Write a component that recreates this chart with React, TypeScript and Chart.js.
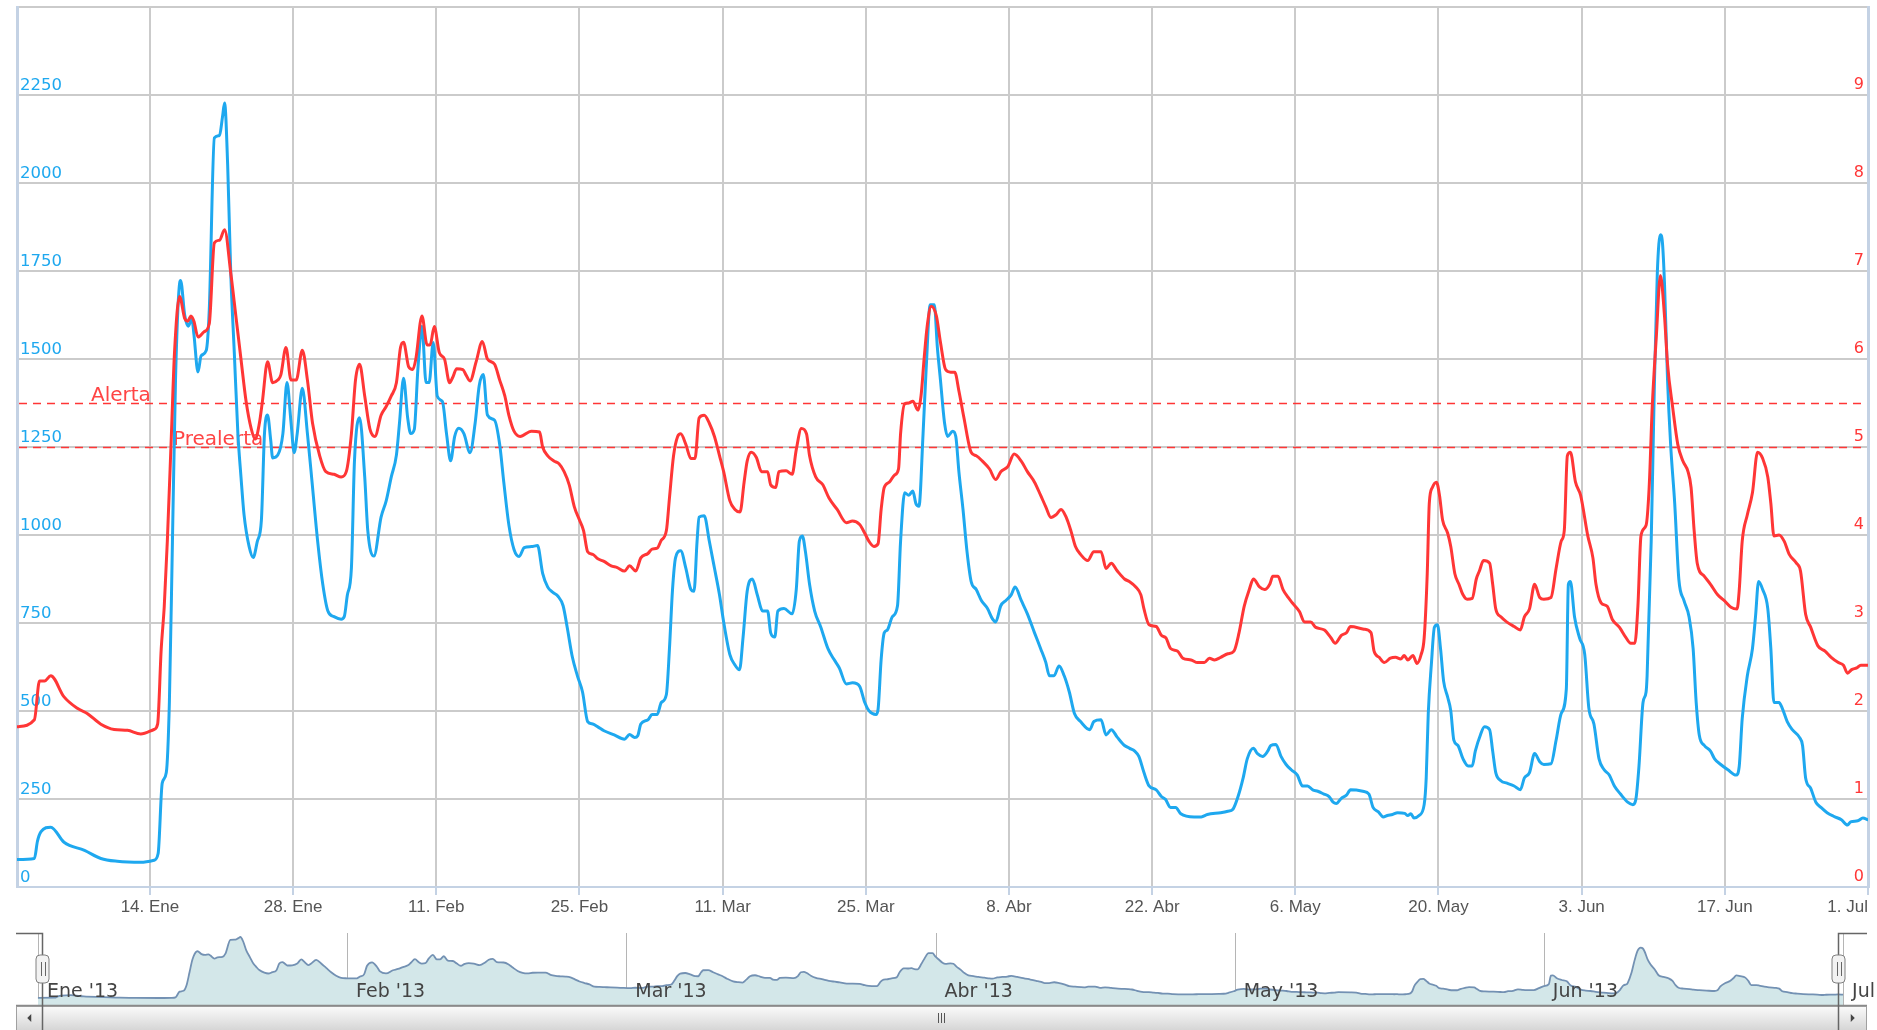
import React, { useEffect, useRef } from "react";
import { Chart, registerables } from "chart.js";
Chart.register(...registerables);

// ---- data (x = days since 1 Jan 2013) ----
const caudalDias = [0,1.7,2.0,2.35,3.3,4.6,6.6,8.2,9.8,12.1,13.4,13.8,14.2,14.6,14.9,15.2,15.5,15.9,16.0,16.4,16.75,17.1,17.3,17.7,18.0,18.5,18.8,19.3,19.8,20.1,20.3,20.6,20.9,21.25,21.6,21.9,22.2,22.7,23.1,23.5,23.9,24.2,24.5,24.8,25.0,25.5,26.0,26.4,26.8,27.1,27.4,27.9,28.4,28.9,29.4,29.9,30.4,31.0,31.7,32.0,32.3,32.7,33.0,33.5,34.0,34.3,34.9,35.6,36.1,36.6,37.1,37.4,37.8,38.2,38.5,38.85,39.2,39.6,40.0,40.3,40.7,41.1,41.6,42.0,42.4,42.8,43.2,43.7,44.3,44.8,45.2,45.6,46.0,46.7,47.2,47.6,48.1,48.6,49.1,49.6,50.3,50.9,51.4,51.9,52.4,52.9,53.4,53.8,54.3,54.8,55.3,55.8,56.3,56.8,57.4,58.4,59.4,59.9,60.4,60.7,61.0,61.7,62.1,62.6,63.0,63.5,63.8,64.1,64.4,64.9,65.4,65.9,66.2,66.5,66.7,67.2,67.7,68.2,68.7,69.1,69.7,70.2,70.65,71.0,71.4,71.9,72.4,72.9,73.4,73.7,74.1,74.4,75.0,75.8,76.2,76.5,76.8,77.1,77.5,78.0,78.6,79.3,79.9,80.4,81.1,81.7,82.4,82.9,83.3,84.0,84.2,84.5,84.8,85.1,85.6,86.1,86.4,86.8,87.2,87.6,87.9,88.2,88.6,88.9,89.3,89.7,90.0,90.3,90.7,91.0,91.5,91.8,92.1,92.5,92.9,93.3,93.8,94.3,94.9,95.4,95.7,96.2,96.7,97.2,97.6,98.2,98.8,99.5,100.1,100.6,100.95,101.4,101.9,102.4,102.9,103.4,104.0,104.9,105.3,106.0,106.5,107.0,107.6,108.3,108.8,109.3,109.7,110.2,110.7,111.4,111.9,112.3,112.8,113.3,113.8,115.1,115.8,116.4,117.7,118.4,118.9,119.4,119.9,120.3,120.9,121.3,121.8,122.3,122.6,123.1,123.6,124.1,124.6,125.2,125.7,126.2,126.7,127.2,127.8,128.3,128.7,129.0,129.5,130.0,130.4,131.6,132.2,132.6,133.1,133.6,134.0,134.5,135.0,135.7,136.0,136.3,136.6,137.1,137.6,137.8,138.0,138.3,138.6,138.9,139.2,139.5,139.9,140.2,140.5,140.9,141.4,141.9,142.3,142.6,143.1,143.5,144.0,144.3,144.6,145.1,145.7,146.4,147.0,147.4,147.9,148.4,148.9,149.3,150.0,150.5,151.0,151.5,151.7,151.9,152.3,152.8,153.3,153.7,154.2,154.7,155.2,155.7,156.2,156.8,157.5,158.0,158.3,158.6,159.0,159.3,159.4,159.8,160.1,160.4,160.7,160.9,161.1,161.4,161.7,162.1,162.5,163.0,163.5,163.9,164.2,164.5,165.0,165.6,166.0,166.6,167.3,168.1,168.4,168.7,169.2,169.7,170.0,170.3,170.7,171.2,171.5,171.8,172.3,172.6,173.1,173.6,174.3,174.6,174.9,175.4,175.9,176.4,177.0,177.7,178.4,179.0,179.3,180.0,180.5,181.0];
const caudalValores = [78,81,130,157,170,127,104,81,73,70,76,95,295,325,524,982,1440,1715,1723,1624,1593,1615,1570,1463,1509,1524,1639,2128,2135,2189,2227,2051,1746,1517,1288,1166,1058,967,936,982,1043,1288,1341,1272,1219,1227,1288,1433,1318,1234,1288,1417,1288,1135,982,860,784,768,761,768,829,906,1211,1333,1166,1013,940,1051,1097,1165,1227,1318,1445,1333,1288,1300,1471,1593,1433,1433,1547,1394,1379,1288,1211,1280,1303,1288,1234,1318,1425,1456,1341,1326,1257,1150,1028,959,939,964,967,970,891,852,837,826,799,738,654,600,554,470,463,455,444,432,420,433,425,430,463,475,490,490,524,547,677,845,936,955,906,845,840,982,1051,1055,982,906,829,753,661,631,617,710,840,875,829,784,784,722,710,784,791,776,845,982,997,952,860,784,738,677,646,623,577,580,570,524,501,490,505,646,722,730,768,799,982,1120,1113,1125,1089,1082,1288,1471,1654,1654,1532,1440,1318,1280,1295,1280,1181,1074,952,868,845,814,791,761,753,799,814,829,852,814,776,722,677,638,600,600,628,600,554,493,470,447,470,475,432,447,425,402,394,386,371,325,287,276,257,249,226,226,208,199,199,206,211,215,221,257,310,364,394,379,371,386,402,405,371,348,333,318,287,287,276,272,264,257,241,237,252,261,276,272,264,226,214,199,203,206,211,209,203,208,196,203,234,310,493,631,738,745,677,585,539,501,417,402,364,344,344,386,432,455,447,386,325,302,295,287,276,310,325,379,356,348,350,417,493,562,860,868,768,707,661,509,463,364,333,318,287,264,241,234,249,341,524,554,600,982,1410,1746,1853,1830,1715,1440,1257,1089,875,814,768,677,524,432,402,386,364,348,333,318,341,478,600,677,768,868,845,791,677,524,524,509,470,447,425,402,310,280,241,226,211,200,191,176,185,188,196,191];

const nivelDias = [0,1.7,2.2,2.7,3.3,4.6,5.9,6.9,8.2,9.5,10.8,12.1,13.4,13.75,14.1,14.4,14.7,15.1,15.4,15.9,16.4,16.7,17.0,17.3,17.7,18.3,18.8,19.3,19.8,20.3,20.9,21.4,21.9,22.4,22.9,23.3,23.7,24.0,24.5,25.0,25.5,25.8,26.3,26.8,27.3,27.9,28.4,28.9,29.6,30.2,31.0,31.7,32.2,32.7,33.1,33.5,34.0,34.5,35.0,35.6,36.1,36.6,37.1,37.5,37.8,38.3,38.7,39.0,39.6,40.1,40.4,40.8,41.3,41.8,42.3,42.6,43.0,43.6,43.9,44.3,44.9,45.5,46.0,46.7,47.2,47.7,48.1,48.6,49.2,50.3,51.1,51.4,51.9,52.5,53.0,53.5,54.0,54.5,55.0,55.4,55.8,56.3,56.8,57.4,58.1,58.7,59.4,59.9,60.5,61.0,61.7,62.1,62.6,63.0,63.5,63.8,64.2,64.6,64.9,65.4,65.9,66.3,66.7,67.2,67.7,68.2,68.7,69.1,69.7,70.2,70.7,71.1,71.4,71.8,72.3,72.8,73.4,73.7,74.2,74.5,75.2,75.8,76.2,76.7,77.2,77.5,78.1,78.8,79.4,80.2,81.1,81.7,82.4,82.9,83.3,83.8,84.2,84.5,84.8,85.3,85.8,86.2,86.4,86.8,87.2,87.6,88.1,88.4,88.7,89.0,89.4,89.9,90.3,90.8,91.3,91.7,92.1,92.6,93.3,93.8,94.4,95.1,95.7,96.2,96.9,97.5,98.2,98.8,99.5,100.1,100.6,101.1,101.6,102.1,102.6,103.05,103.5,104.0,104.7,105.3,106.0,106.5,107.0,107.6,108.3,108.8,109.4,109.9,110.2,110.7,111.4,111.9,112.35,112.8,113.5,114.0,114.8,115.45,116.1,116.6,117.1,117.7,118.4,119.0,119.5,120.0,120.5,120.9,121.5,122.0,122.5,122.8,123.3,123.8,124.3,124.7,125.4,125.9,126.5,127.0,127.85,128.5,128.9,129.5,130.0,130.4,131.7,132.4,132.7,133.2,133.7,134.3,134.8,135.3,135.65,136.0,136.5,136.9,137.3,137.6,137.9,138.1,138.4,138.8,139.1,139.4,139.9,140.2,140.6,141.0,141.4,141.8,142.3,142.7,143.0,143.4,144.0,144.3,144.6,145.1,145.7,146.4,147.0,147.4,147.9,148.4,148.9,149.3,150.0,150.5,151.0,151.3,151.6,151.9,152.4,152.9,153.6,154.1,154.4,154.9,155.5,156.0,156.7,157.3,157.8,158.2,158.5,158.8,159.3,159.6,159.9,160.3,160.7,161.1,161.4,161.9,162.4,162.9,163.4,163.7,164.0,164.3,165.0,165.6,166.3,166.9,167.6,168.2,168.4,168.7,169.2,169.7,170.2,170.7,171.2,171.5,171.8,172.3,172.8,173.3,174.0,174.4,174.9,175.4,176.1,176.8,177.4,178.1,178.6,179.0,179.4,179.9,180.3,181.0];
const nivelValores = [1.82,1.9,2.34,2.34,2.4,2.16,2.03,1.97,1.85,1.79,1.78,1.74,1.79,1.85,2.7,3.19,3.93,5.15,6.07,6.71,6.46,6.43,6.49,6.43,6.25,6.31,6.4,7.32,7.35,7.47,6.98,6.49,6.0,5.52,5.21,5.09,5.27,5.52,5.97,5.73,5.76,5.82,6.13,5.76,5.76,6.1,5.76,5.27,4.9,4.72,4.69,4.66,4.72,5.15,5.76,5.94,5.58,5.21,5.12,5.36,5.46,5.58,5.73,6.13,6.19,5.91,5.88,6.0,6.49,6.16,6.16,6.37,6.07,6.0,5.73,5.79,5.89,5.88,5.82,5.75,5.97,6.2,6.0,5.94,5.76,5.58,5.36,5.18,5.12,5.18,5.17,5.0,4.9,4.84,4.81,4.72,4.57,4.32,4.17,4.05,3.81,3.78,3.73,3.7,3.65,3.63,3.59,3.65,3.59,3.74,3.79,3.84,3.85,3.94,4.05,4.42,4.9,5.12,5.15,5.03,4.87,4.87,5.33,5.36,5.27,5.12,4.9,4.72,4.39,4.29,4.26,4.6,4.84,4.94,4.88,4.72,4.72,4.57,4.54,4.72,4.73,4.69,4.97,5.21,5.15,4.9,4.66,4.57,4.42,4.29,4.14,4.16,4.12,4.02,3.93,3.87,3.9,4.29,4.54,4.6,4.68,4.75,5.15,5.49,5.5,5.52,5.42,5.58,6.0,6.37,6.6,6.49,6.19,5.88,5.85,5.85,5.64,5.33,4.94,4.9,4.84,4.75,4.63,4.72,4.78,4.92,4.84,4.72,4.6,4.45,4.32,4.2,4.23,4.29,4.2,4.05,3.87,3.78,3.71,3.81,3.81,3.62,3.68,3.59,3.5,3.47,3.41,3.32,3.16,2.98,2.96,2.86,2.83,2.71,2.68,2.6,2.58,2.55,2.55,2.6,2.58,2.61,2.65,2.68,2.89,3.19,3.38,3.5,3.41,3.38,3.44,3.53,3.53,3.38,3.29,3.23,3.13,3.01,3.01,2.95,2.92,2.83,2.77,2.86,2.89,2.96,2.93,2.89,2.68,2.61,2.55,2.6,2.61,2.59,2.63,2.58,2.63,2.54,2.64,2.83,3.56,4.36,4.54,4.6,4.45,4.17,4.02,3.87,3.56,3.44,3.32,3.27,3.28,3.5,3.59,3.71,3.68,3.44,3.16,3.07,3.01,2.96,2.92,3.07,3.16,3.44,3.29,3.27,3.29,3.62,3.93,4.05,4.9,4.94,4.6,4.45,3.99,3.74,3.44,3.23,3.19,3.04,2.95,2.84,2.77,2.77,3.19,3.99,4.11,4.54,5.45,6.25,6.95,6.49,5.94,5.45,5.03,4.84,4.72,4.54,4.05,3.68,3.53,3.44,3.32,3.26,3.18,3.16,3.36,3.93,4.23,4.48,4.94,4.87,4.66,4.36,3.99,4.0,3.93,3.78,3.68,3.59,3.1,2.95,2.74,2.68,2.61,2.55,2.52,2.43,2.47,2.49,2.52,2.52];

const xTickDias = [13, 27, 41, 55, 69, 83, 97, 111, 125, 139, 153, 167, 181];
const xTickEtiquetas = ["14. Ene", "28. Ene", "11. Feb", "25. Feb", "11. Mar", "25. Mar", "8. Abr", "22. Abr", "6. May", "20. May", "3. Jun", "17. Jun", "1. Jul"];
const umbralNombres = ["Alerta", "Prealerta"];
const umbralValores = [5.5, 5.0];
const navMesDias = [0, 31, 59, 90, 120, 151, 181];
const navMesEtiquetas = ["Ene '13", "Feb '13", "Mar '13", "Abr '13", "May '13", "Jun '13", "Jul '13"];

const BLUE = "#1ea8ef";
const RED = "#ff3636";
const GRID = "#cbcbcb";
const AXIS = "#c4d2e4";

const mainDecor = {
  id: "mainDecor",
  beforeDatasetsDraw(chart: any) {
    const { ctx, chartArea: a, scales } = chart;
    const y = scales.y, y2 = scales.y2;
    ctx.save();
    // threshold lines + labels
    const labelX = [74, 156];
    umbralValores.forEach((v, i) => {
      const py = Math.round(y2.getPixelForValue(v)) + 0.5;
      ctx.strokeStyle = RED;
      ctx.lineWidth = 1.3;
      ctx.setLineDash([8, 6]);
      ctx.beginPath();
      ctx.moveTo(a.left + 2, py);
      ctx.lineTo(a.right - 2, py);
      ctx.stroke();
      ctx.setLineDash([]);
      ctx.fillStyle = "#ff4444";
      ctx.font = '20px "DejaVu Sans", sans-serif';
      ctx.textAlign = "left";
      ctx.textBaseline = "alphabetic";
      ctx.fillText(umbralNombres[i], a.left + labelX[i], py - 3);
    });
    // left tick labels
    ctx.font = '16.5px "DejaVu Sans", sans-serif';
    ctx.fillStyle = BLUE;
    ctx.textAlign = "left";
    y.ticks.forEach((t: any) => {
      if (t.value >= y.max) return;
      ctx.fillText(String(t.value), a.left + 3, y.getPixelForValue(t.value) - 5);
    });
    // right tick labels
    ctx.font = '16px "DejaVu Sans", sans-serif';
    ctx.fillStyle = RED;
    ctx.textAlign = "right";
    y2.ticks.forEach((t: any) => {
      if (t.value >= y2.max) return;
      ctx.fillText(String(t.value), a.right - 4, y2.getPixelForValue(t.value) - 6);
    });
    ctx.restore();
  },
  afterDraw(chart: any) {
    const { ctx, chartArea: a, scales } = chart;
    const x = scales.x;
    ctx.save();
    ctx.font = '17px "Liberation Sans", Arial, sans-serif';
    ctx.fillStyle = "#555";
    ctx.textAlign = "left";
    ctx.textBaseline = "alphabetic";
    xTickDias.forEach((d, i) => {
      const px = x.getPixelForValue(d);
      const w = ctx.measureText(xTickEtiquetas[i]).width;
      let left = px - w / 2;
      if (left + w > a.right) left = a.right - w;
      ctx.fillText(xTickEtiquetas[i], left, a.bottom + 25);
    });
    ctx.restore();
  },
};

const navDecor = {
  id: "navDecor",
  beforeDatasetsDraw(chart: any) {
    const { ctx, chartArea: a, scales } = chart;
    ctx.save();
    ctx.strokeStyle = "#b5b5b5";
    ctx.lineWidth = 1;
    navMesDias.forEach((d) => {
      const px = Math.round(scales.x.getPixelForValue(d)) + 0.5;
      ctx.beginPath();
      ctx.moveTo(px, a.top);
      ctx.lineTo(px, a.bottom);
      ctx.stroke();
    });
    ctx.restore();
  },
  afterDatasetsDraw(chart: any) {
    const { ctx, chartArea: a, scales } = chart;
    const W = chart.width, H = chart.height;
    const x = scales.x;
    ctx.save();
    // month labels
    ctx.font = '19px "DejaVu Sans", sans-serif';
    ctx.fillStyle = "#444";
    ctx.textAlign = "left";
    ctx.textBaseline = "alphabetic";
    navMesDias.forEach((d, i) => {
      const px = x.getPixelForValue(d);
      ctx.fillText(navMesEtiquetas[i], px + 9, a.bottom - 8);
    });
    // scrollbar
    const sbTop = a.bottom + 1;
    const xL = Math.round(x.getPixelForValue(navMesDias[0])) + 4.5;
    const xR = Math.round(x.getPixelForValue(navMesDias[navMesDias.length - 1])) - 4.5;
    const g = ctx.createLinearGradient(0, sbTop, 0, H);
    g.addColorStop(0, "#fbfbfb");
    g.addColorStop(1, "#d6d6d6");
    ctx.fillStyle = g;
    ctx.fillRect(a.left, sbTop, a.right - a.left, H - sbTop);
    ctx.strokeStyle = "#a0a0a0";
    ctx.lineWidth = 1;
    ctx.strokeRect(a.left + 0.5, sbTop + 0.5, a.right - a.left - 1, H - sbTop + 4);
    // arrows
    ctx.fillStyle = "#444";
    const cy = sbTop + 12;
    const lx = (a.left + xL) / 2, rx = (xR + a.right) / 2;
    ctx.beginPath();
    ctx.moveTo(lx - 2, cy); ctx.lineTo(lx + 2, cy - 4); ctx.lineTo(lx + 2, cy + 4); ctx.closePath(); ctx.fill();
    ctx.beginPath();
    ctx.moveTo(rx + 2, cy); ctx.lineTo(rx - 2, cy - 4); ctx.lineTo(rx - 2, cy + 4); ctx.closePath(); ctx.fill();
    // grip
    const gx = Math.round((xL + xR) / 2);
    ctx.strokeStyle = "#555";
    [-3, 0, 3].forEach((o) => {
      ctx.beginPath();
      ctx.moveTo(gx + o + 0.5, cy - 5);
      ctx.lineTo(gx + o + 0.5, cy + 5);
      ctx.stroke();
    });
    // bottom line of navigator
    ctx.strokeStyle = "#8a8a8a";
    ctx.lineWidth = 1.5;
    ctx.beginPath();
    ctx.moveTo(a.left, a.bottom + 0.5);
    ctx.lineTo(a.right, a.bottom + 0.5);
    ctx.stroke();
    // brackets
    ctx.strokeStyle = "#666";
    ctx.lineWidth = 1.5;
    ctx.beginPath();
    ctx.moveTo(a.left, a.top + 0.5); ctx.lineTo(xL, a.top + 0.5); ctx.lineTo(xL, H);
    ctx.moveTo(a.right, a.top + 0.5); ctx.lineTo(xR, a.top + 0.5); ctx.lineTo(xR, H);
    ctx.stroke();
    // handles
    [xL, xR].forEach((hx) => {
      const hw = 13, hh = 28, hy = a.top + 22;
      ctx.fillStyle = "#f2f2f2";
      ctx.strokeStyle = "#808080";
      ctx.lineWidth = 1;
      ctx.beginPath();
      (ctx as any).roundRect(hx - hw / 2, hy, hw, hh, 4);
      ctx.fill();
      ctx.stroke();
      ctx.strokeStyle = "#666";
      [-2, 2].forEach((o) => {
        ctx.beginPath();
        ctx.moveTo(Math.round(hx + o) + 0.5, hy + 7);
        ctx.lineTo(Math.round(hx + o) + 0.5, hy + hh - 7);
        ctx.stroke();
      });
    });
    ctx.restore();
  },
};

export default function App() {
  const mainRef = useRef<HTMLCanvasElement | null>(null);
  const navRef = useRef<HTMLCanvasElement | null>(null);

  useEffect(() => {
    const caudalPts = caudalDias.map((d, i) => ({ x: d, y: caudalValores[i] }));
    const nivelPts = nivelDias.map((d, i) => ({ x: d, y: nivelValores[i] }));

    const main = new Chart(mainRef.current as HTMLCanvasElement, {
      type: "line",
      data: {
        datasets: [
          {
            label: "Nivel",
            data: nivelPts,
            yAxisID: "y2",
            borderColor: RED,
            borderWidth: 3,
            pointRadius: 0,
            cubicInterpolationMode: "monotone",
            borderJoinStyle: "round",
            borderCapStyle: "round",
            fill: false,
          },
          {
            label: "Caudal",
            data: caudalPts,
            yAxisID: "y",
            borderColor: BLUE,
            borderWidth: 3,
            pointRadius: 0,
            cubicInterpolationMode: "monotone",
            borderJoinStyle: "round",
            borderCapStyle: "round",
            fill: false,
          },
        ],
      } as any,
      options: {
        animation: false,
        responsive: false,
        devicePixelRatio: 1,
        events: [],
        layout: { padding: { left: 17, right: 9, top: 7, bottom: 8 } },
        plugins: { legend: { display: false }, tooltip: { enabled: false } },
        scales: {
          x: {
            type: "linear",
            min: 0,
            max: 181,
            afterBuildTicks: (s: any) => {
              s.ticks = xTickDias.map((v) => ({ value: v }));
            },
            afterFit: (s: any) => {
              s.height = 30;
            },
            ticks: { display: false },
            grid: { color: GRID, lineWidth: 2, drawTicks: true, tickLength: 8, tickColor: AXIS, tickWidth: 2 },
            border: { color: AXIS, width: 2 },
          },
          y: {
            position: "left",
            min: 0,
            max: 2500,
            afterFit: (s: any) => {
              s.width = 0;
            },
            ticks: { stepSize: 250, display: false },
            grid: { color: GRID, lineWidth: 2, drawTicks: false },
            border: { color: AXIS, width: 3 },
          },
          y2: {
            position: "right",
            min: 0,
            max: 10,
            afterFit: (s: any) => {
              s.width = 0;
            },
            ticks: { stepSize: 1, display: false },
            grid: { drawOnChartArea: false, drawTicks: false },
            border: { color: AXIS, width: 3 },
          },
        },
      } as any,
      plugins: [mainDecor],
    });

    const nav = new Chart(navRef.current as HTMLCanvasElement, {
      type: "line",
      data: {
        datasets: [
          {
            data: caudalPts,
            borderColor: "#7391b3",
            borderWidth: 1.8,
            backgroundColor: "#d3e7e9",
            fill: "start",
            pointRadius: 0,
            cubicInterpolationMode: "monotone",
          },
        ],
      } as any,
      options: {
        animation: false,
        responsive: false,
        devicePixelRatio: 1,
        events: [],
        layout: { padding: { left: 16, right: 10, top: 8, bottom: 25 } },
        plugins: { legend: { display: false }, tooltip: { enabled: false } },
        scales: {
          x: { type: "linear", display: false, min: -2.2, max: 183.4 },
          y: { display: false, min: -177, max: 2369 },
        },
      } as any,
      plugins: [navDecor],
    });

    return () => {
      main.destroy();
      nav.destroy();
    };
  }, []);

  return (
    <div style={{ position: "fixed", left: 0, top: 0, width: 1877, height: 1030, background: "#fff", overflow: "hidden" }}>
      <canvas ref={mainRef} width={1877} height={925} style={{ position: "absolute", left: 0, top: 0, display: "block" }} />
      <canvas ref={navRef} width={1877} height={105} style={{ position: "absolute", left: 0, top: 925, display: "block" }} />
    </div>
  );
}
